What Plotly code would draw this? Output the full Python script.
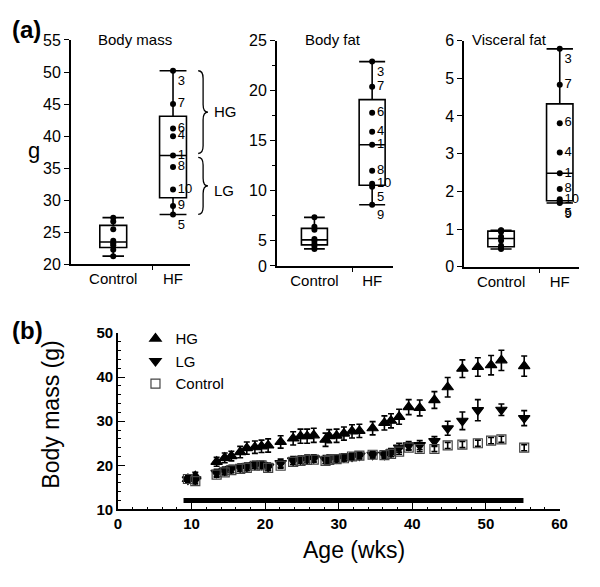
import plotly.graph_objects as go

FONT = "Liberation Sans"

# ---- (a) end-point measurements ----
ctrl_x = 0
hf_x = 1
hf_ids = ["3", "7", "6", "4", "1", "8", "10", "5", "9"]
mass_hf = [50.2, 45.0, 41.2, 40.0, 37.0, 35.2, 31.7, 27.8, 29.1]
mass_ctrl = [21.3, 22.3, 23.0, 23.3, 23.7, 25.5, 26.7, 27.3]
fat_hf = [22.9, 20.4, 17.8, 15.9, 14.6, 12.0, 10.7, 10.4, 8.6]
fat_ctrl = [4.2, 4.5, 4.7, 5.0, 5.2, 6.1, 6.4, 7.35]
visc_hf = [5.78, 4.83, 3.81, 3.03, 2.48, 2.06, 1.79, 1.71, 1.69]
visc_ctrl = [0.47, 0.5, 0.56, 0.7, 0.8, 0.93, 0.96, 0.97]

# label placement (per mouse id, same order as hf_ids)
mass_textpos = ["bottom right"] + ["middle right"] * 6 + ["bottom right", "middle right"]
fat_textpos = ["bottom right"] + ["middle right"] * 6 + ["bottom right", "bottom right"]
visc_textpos = ["bottom right"] + ["middle right"] * 6 + ["bottom right", "bottom right"]

# ---- (b) body mass time course ----
ages = [9.5, 10.5, 13.4, 14.5, 15.4, 16.6, 17.5, 18.6, 19.5, 20.4, 22.1, 23.8, 24.8, 25.7,
        26.6, 28.2, 28.7, 29.7, 30.7, 31.8, 32.8, 34.6, 36.2, 37.1, 38.2, 39.5, 41.0, 43.0,
        44.8, 46.8, 48.9, 50.7, 52.1, 55.2]
hg = [16.9, 17.5, 20.8, 21.7, 22.1, 23.0, 23.9, 24.1, 24.3, 24.5, 25.3, 26.1, 26.6, 26.6,
      26.8, 25.8, 26.6, 26.7, 27.2, 27.7, 27.8, 28.4, 29.6, 30.1, 31.0, 33.2, 33.0, 34.8,
      37.7, 41.9, 42.3, 42.7, 43.8, 42.5]
hg_err = [0.8, 0.9, 1.0, 1.1, 1.1, 1.3, 1.4, 1.4, 1.4, 1.5, 1.4, 1.5, 1.6, 1.6,
          1.6, 1.5, 1.5, 1.5, 1.5, 1.5, 1.5, 1.5, 1.6, 1.6, 1.7, 1.7, 1.8, 1.9,
          2.2, 2.0, 2.1, 2.2, 2.3, 2.3]
lg = [16.8, 16.8, 18.3, 18.8, 19.2, 19.5, 19.7, 20.1, 20.1, 19.7, 20.5, 21.1, 21.3, 21.5,
      21.6, 21.3, 21.5, 21.6, 21.8, 22.0, 22.2, 22.4, 22.4, 22.9, 24.0, 24.5, 24.6, 25.5,
      28.4, 30.1, 32.5, None, 32.6, 30.7]
lg_err = [0.6, 0.6, 0.8, 0.8, 0.8, 0.8, 0.8, 0.8, 0.8, 0.8, 0.9, 0.9, 0.8, 0.8,
          0.8, 0.9, 0.8, 0.8, 0.8, 0.8, 0.8, 0.8, 0.8, 0.9, 1.0, 0.9, 1.0, 1.0,
          1.6, 2.0, 2.4, 0, 1.3, 1.7]
ctrl = [16.9, 16.4, 17.9, 18.4, 18.9, 19.2, 19.4, 19.9, 20.0, 19.4, 19.9, 20.8, 21.0, 21.2,
        21.3, 21.0, 21.2, 21.4, 21.6, 22.0, 22.2, 22.4, 22.3, 22.6, 23.1, 24.0, 23.7, 23.7,
        24.5, 24.7, 25.0, 25.6, 25.9, 24.0]
ctrl_err = [0.6] * 28 + [0.7] * 6
diet_start, diet_end, bar_level = 8.9, 55.1, 12.0

W, H = 600, 587
OFF = 8  # page body margin pushes the plot div right/down


def px(x):
    return (x - OFF) / W


def py(y):
    return 1 - (y - OFF) / H


def dom_x(a, b):
    return [px(a), px(b)]


def dom_y(top, bottom):
    return [py(bottom), py(top)]


fig = go.Figure()

panels = [
    ("x", "y", mass_ctrl, mass_hf, mass_textpos),
    ("x2", "y2", fat_ctrl, fat_hf, fat_textpos),
    ("x3", "y3", visc_ctrl, visc_hf, visc_textpos),
]
for xa, ya, c_vals, h_vals, tpos in panels:
    for xpos, vals, ww in [(ctrl_x, c_vals, 0.8), (hf_x, h_vals, 1.0)]:
        fig.add_trace(go.Box(
            y=vals, x=[xpos] * len(vals), xaxis=xa, yaxis=ya,
            boxpoints=False, quartilemethod="exclusive", width=0.45,
            whiskerwidth=ww, fillcolor="white",
            line=dict(color="black", width=1.6), showlegend=False, hoverinfo="skip",
        ))
    fig.add_trace(go.Scatter(
        x=[ctrl_x] * len(c_vals), y=c_vals, xaxis=xa, yaxis=ya, mode="markers",
        marker=dict(color="black", size=6), showlegend=False, cliponaxis=False,
    ))
    fig.add_trace(go.Scatter(
        x=[hf_x] * len(h_vals), y=h_vals, xaxis=xa, yaxis=ya, mode="markers+text",
        text=hf_ids, textposition=tpos,
        textfont=dict(family=FONT, size=13, color="black"),
        marker=dict(color="black", size=6), showlegend=False, cliponaxis=False,
    ))

# panel (b)
fig.add_trace(go.Scatter(
    x=[diet_start, diet_end], y=[bar_level, bar_level], xaxis="x4", yaxis="y4",
    mode="lines", line=dict(color="black", width=5), showlegend=False,
))
series = [
    ("HG", hg, hg_err, "triangle-up", "black", 10),
    ("LG", lg, lg_err, "triangle-down", "black", 10),
    ("Control", ctrl, ctrl_err, "square-open", "#444444", 9),
]
for name, vals, err, sym, col, sz in series:
    fig.add_trace(go.Scatter(
        x=ages, y=vals, name=name, xaxis="x4", yaxis="y4", mode="markers",
        marker=dict(symbol=sym, color=col, size=sz, line=dict(width=1.2, color=col)),
        error_y=dict(type="data", array=err, color="black", thickness=1.6, width=3),
    ))

tickfont = dict(family=FONT, size=16, color="black")
xcat = dict(
    tickvals=[ctrl_x, hf_x], ticktext=["Control", "HF"], ticks="",
    tickfont=dict(family=FONT, size=15, color="black"),
    showline=True, linecolor="black", linewidth=1.6, showgrid=False, zeroline=False,
    minor=dict(tickvals=[0.66], ticks="outside", ticklen=4, tickcolor="black", tickwidth=1.4),
)
yaxis_common = dict(
    showline=True, linecolor="black", linewidth=1.6, showgrid=False, zeroline=False,
    ticks="outside", ticklen=5, tickwidth=1.4, tickcolor="black", tickfont=tickfont,
)
b_axis = dict(
    showline=True, linecolor="black", linewidth=1.8, showgrid=False, zeroline=False,
    ticks="inside", ticklen=7, tickwidth=1.4, tickcolor="black",
    tickfont=dict(family=FONT, size=15, color="black", weight="bold"),
    minor=dict(dtick=2, ticks="inside", ticklen=3, tickcolor="black", tickwidth=1.2),
)

fig.update_layout(
    width=W, height=H, margin=dict(l=0, r=0, t=0, b=0),
    plot_bgcolor="white", paper_bgcolor="white",
    font=dict(family=FONT, color="black"),
    xaxis=dict(domain=dom_x(68, 190), range=[-0.71, 1.29], anchor="y", **xcat),
    yaxis=dict(domain=dom_y(31.7, 263.3), range=[20, 55], dtick=5, anchor="x", **yaxis_common),
    xaxis2=dict(domain=dom_x(278.3, 396.7), range=[-0.65, 1.36], anchor="y2", **xcat),
    yaxis2=dict(domain=dom_y(32.3, 264.8), range=[2.5, 25], anchor="x2",
                tickvals=[2.5, 5, 10, 15, 20, 25], ticktext=["0", "5", "10", "15", "20", "25"],
                minor=dict(tickvals=[7.5, 12.5, 17.5, 22.5], ticks="outside", ticklen=3,
                           tickcolor="black", tickwidth=1.2),
                **yaxis_common),
    xaxis3=dict(domain=dom_x(469.3, 586.7), range=[-0.63, 1.33], anchor="y3", **xcat),
    yaxis3=dict(domain=dom_y(32.3, 265.7), range=[0, 6], dtick=1, anchor="x3", **yaxis_common),
    xaxis4=dict(domain=dom_x(116.2, 566.7), range=[0, 60], dtick=10, anchor="y4", **b_axis),
    yaxis4=dict(domain=dom_y(334, 516), range=[10, 50], dtick=10, anchor="x4", **b_axis),
    legend=dict(x=px(134), y=py(323), xanchor="left", yanchor="top",
                font=dict(family=FONT, size=15, color="black"), bgcolor="rgba(0,0,0,0)",
                tracegroupgap=0),
)


# braces grouping HF mice into high gainers / low gainers
def brace(ytop, ybot, x0, w, r):
    ymid = (ytop + ybot) / 2
    xm = x0 + w / 2
    return (f"M {x0},{ytop} Q {xm},{ytop} {xm},{ytop - r} L {xm},{ymid + r} "
            f"Q {xm},{ymid} {x0 + w},{ymid} Q {xm},{ymid} {xm},{ymid - r} "
            f"L {xm},{ybot + r} Q {xm},{ybot} {x0},{ybot}")


hg_top, split, lg_bot = max(mass_hf), mass_hf[hf_ids.index("1")], min(mass_hf)
for top, bot in [(hg_top, split + 0.3), (split - 0.3, lg_bot)]:
    fig.add_shape(type="path", xref="paper", yref="y",
                  path=brace(top, bot, px(198), 10 / W, 1.2),
                  line=dict(color="black", width=1.3))


def ann(text, x, y, size, xanchor="center", **kw):
    fig.add_annotation(text=text, x=px(x), y=py(y), xref="paper", yref="paper",
                       xanchor=xanchor, yanchor="middle", showarrow=False,
                       font=dict(family=FONT, size=size, color="black"), **kw)


ann("HG", 212, 105, 15, xanchor="left")
ann("LG", 212, 187, 15, xanchor="left")
ann("<b>(a)</b>", 23, 21, 24)
ann("<b>(b)</b>", 24, 331, 24)
ann("g", 30, 146, 22)
ann("Body mass", 134, 31, 15)
ann("Body fat", 336, 31, 15)
ann("Visceral fat", 516, 31, 15)
ann("Body mass (g)", 48, 418, 23, textangle=-90)
ann("Age (wks)", 357, 558, 23)

fig.write_html("out.html")
